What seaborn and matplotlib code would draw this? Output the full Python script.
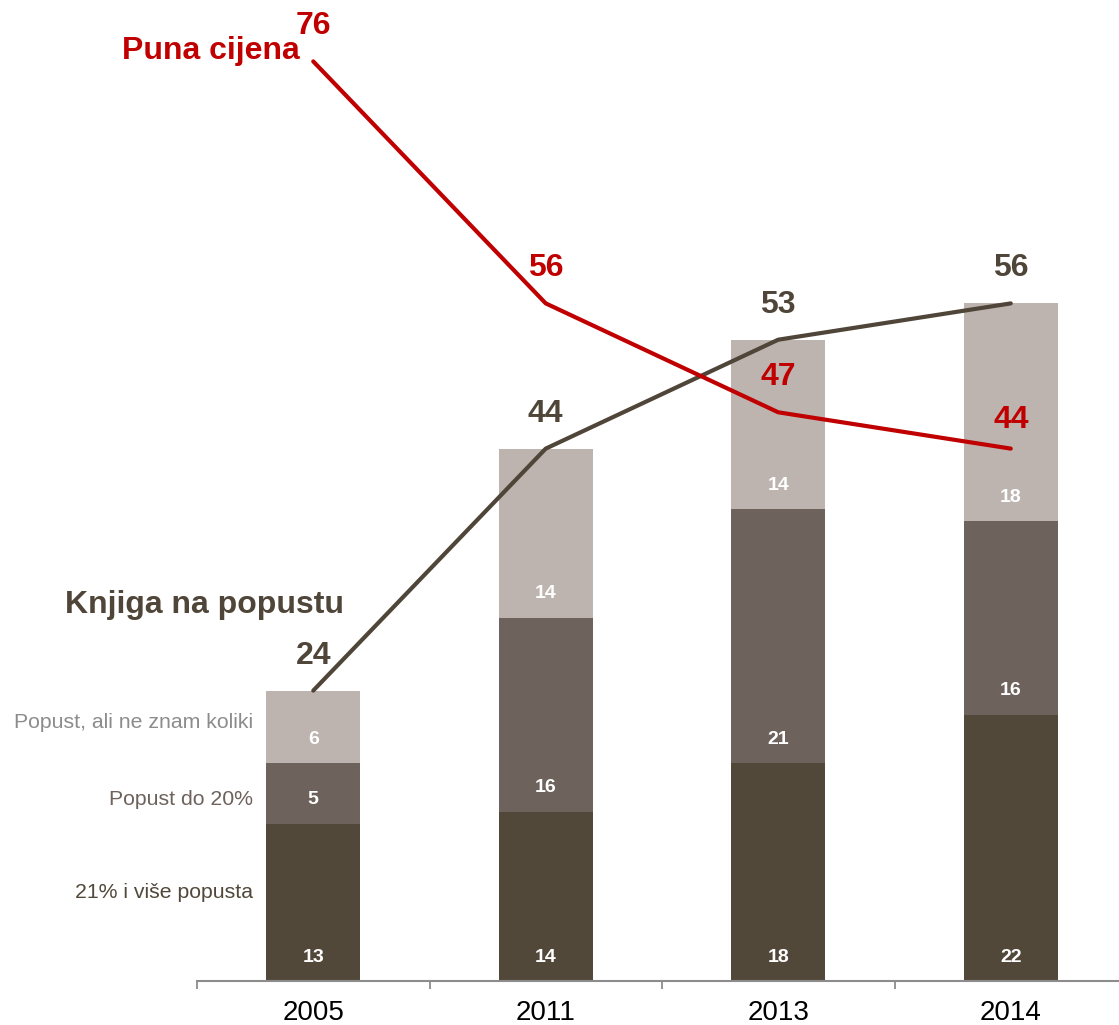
import numpy as np
import pandas as pd
import matplotlib
matplotlib.use("Agg")
import matplotlib.pyplot as plt
import seaborn as sns

# Data
years = ["2005", "2011", "2013", "2014"]
popust_21_plus = [13, 14, 18, 22]      # 21% i više popusta
popust_do_20 = [5, 16, 21, 16]         # Popust do 20%
popust_ne_znam = [6, 14, 14, 18]       # Popust, ali ne znam koliki
knjiga_na_popustu = [24, 44, 53, 56]   # total discounted
puna_cijena = [76, 56, 47, 44]         # full price

dark = "#52483A"
mid = "#6E625C"
light = "#BDB4B0"
red = "#C00000"
line_dark = "#4F4538"
axis_gray = "#8C8C8C"

sns.set_style("white")
plt.rcParams["font.family"] = ["Liberation Sans", "DejaVu Sans"]

df = pd.DataFrame({
    "year": years,
    "low": popust_21_plus,
    "mid": np.array(popust_21_plus) + np.array(popust_do_20),
    "top": np.array(popust_21_plus) + np.array(popust_do_20) + np.array(popust_ne_znam),
    "popust": knjiga_na_popustu,
    "puna": puna_cijena,
})
df["pos"] = np.arange(len(df))

fig = plt.figure(figsize=(11.19, 10.25), dpi=100)
ax = fig.add_axes([197 / 1119, 44 / 1025, 930 / 1119, 981 / 1025])

# stacked bars drawn as overlapping cumulative totals
bw = 0.405
sns.barplot(data=df, x="year", y="top", color=light, width=bw, saturation=1, ax=ax, linewidth=0)
sns.barplot(data=df, x="year", y="mid", color=mid, width=bw, saturation=1, ax=ax, linewidth=0)
sns.barplot(data=df, x="year", y="low", color=dark, width=bw, saturation=1, ax=ax, linewidth=0)

sns.lineplot(data=df, x="pos", y="popust", color=line_dark, linewidth=3, ax=ax,
             solid_capstyle="round")
sns.lineplot(data=df, x="pos", y="puna", color=red, linewidth=3, ax=ax,
             solid_capstyle="round")

# segment labels, a bit above the bottom of each segment
bottoms = [np.zeros(len(df)), df["low"].values, df["mid"].values]
values = [popust_21_plus, popust_do_20, popust_ne_znam]
for b, v in zip(bottoms, values):
    for i in range(len(df)):
        ax.annotate(str(v[i]), xy=(i, b[i]), xytext=(0, 24), textcoords="offset pixels",
                    ha="center", va="center", color="white", fontsize=14, fontweight="bold")

for i in range(len(df)):
    ax.annotate(str(knjiga_na_popustu[i]), xy=(i, knjiga_na_popustu[i]), xytext=(0, 35),
                textcoords="offset pixels", ha="center", va="center",
                color=line_dark, fontsize=23, fontweight="bold")
    off = 29 if i == len(df) - 1 else 35
    ax.annotate(str(puna_cijena[i]), xy=(i, puna_cijena[i]), xytext=(0, off),
                textcoords="offset pixels", ha="center", va="center",
                color=red, fontsize=23, fontweight="bold")

# series names
ax.annotate("Puna cijena", xy=(0, puna_cijena[0]), xytext=(-14, 10), textcoords="offset pixels",
            ha="right", va="center", color=red, fontsize=23, fontweight="bold")
ax.annotate("Knjiga na popustu", xy=(-0.5, knjiga_na_popustu[0]), xytext=(-132, 86),
            textcoords="offset pixels", ha="left", va="center", color=line_dark,
            fontsize=23, fontweight="bold")

# legend-like labels at the left of the first bar
left_edge = -bw / 2
ax.annotate("Popust, ali ne znam koliki", xy=(left_edge, df["mid"][0] + 3.4), xytext=(-13, 0),
            textcoords="offset pixels", ha="right", va="center", color="#8C8C8C", fontsize=15.3)
ax.annotate("Popust do 20%", xy=(left_edge, df["low"][0] + 2.0), xytext=(-13, 0),
            textcoords="offset pixels", ha="right", va="center", color=mid, fontsize=15.3)
ax.annotate("21% i više popusta", xy=(left_edge, 7.3), xytext=(-13, 0),
            textcoords="offset pixels", ha="right", va="center", color=dark, fontsize=15.3)

ax.set_xlim(-0.5, 3.5)
ax.set_ylim(0, 981 / 12.1)
ax.set_xlabel("")
ax.set_ylabel("")
ax.set_yticks([])
ax.set_xticks(range(len(years)))
ax.set_xticklabels(years)
ax.set_xticks(np.arange(-0.5, 4, 1), minor=True)
ax.tick_params(axis="x", which="major", bottom=True, length=0, pad=14, labelsize=20, colors="black")
ax.tick_params(axis="x", which="minor", bottom=True, length=6, width=1.3, color=axis_gray,
               direction="out")
for s in ["left", "right", "top"]:
    ax.spines[s].set_visible(False)
ax.spines["bottom"].set_color(axis_gray)
ax.spines["bottom"].set_linewidth(1.5)
ax.patch.set_alpha(0)

fig.savefig("out.png", dpi=100)
